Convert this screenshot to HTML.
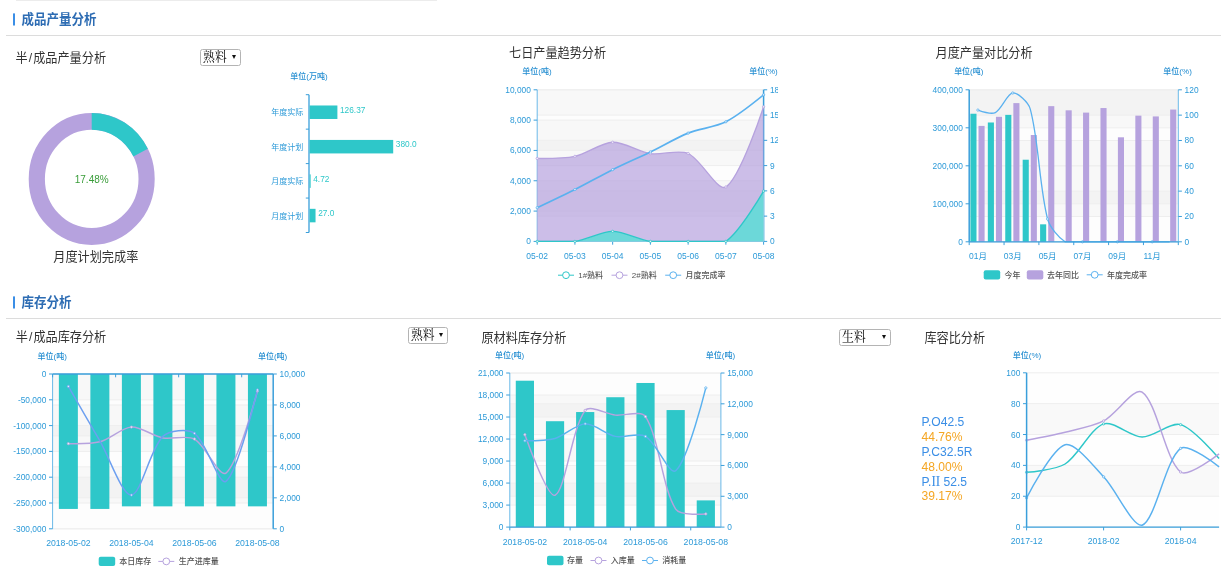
<!DOCTYPE html>
<html lang="zh-CN"><head><meta charset="utf-8"><title>成品产量分析</title>
<style>
html,body{margin:0;padding:0;background:#fff;}
body{width:1221px;height:576px;position:relative;overflow:hidden;font-family:"Liberation Sans","Noto Sans CJK SC",sans-serif;color:#333;}
.chart{position:absolute;display:block;overflow:hidden;}
.topline{position:absolute;left:16px;top:0;width:421px;height:1px;background:#ececec;}
.sec{position:absolute;left:6px;right:0;border-bottom:1.3px solid #dcdcdc;}
.sec h2{position:absolute;margin:0;left:7px;font-family:"Liberation Sans","Noto Sans CJK SC",sans-serif;font-weight:700;font-size:12.5px;line-height:16px;color:#2d6cb3;white-space:nowrap;transform:scaleY(1.1);transform-origin:0 50%;}
.sec h2 i{display:inline-block;width:2.2px;height:10.8px;background:#3a8ee6;margin-right:6.3px;vertical-align:-1px;}
.title{position:absolute;font-size:12.15px;line-height:16px;color:#333;white-space:nowrap;transform:scaleY(1.07);transform-origin:0 50%;}
.title s{text-decoration:none;padding:0 1.1px;}
.cap{position:absolute;font-size:12.15px;line-height:16px;color:#333;white-space:nowrap;text-align:center;transform:scaleY(1.07);}
.sel{position:absolute;box-sizing:border-box;border:1px solid #b4b4b4;border-radius:2.5px;background:#fff;font-family:"Liberation Serif","Noto Serif CJK SC",serif;font-size:11.8px;color:#000;white-space:nowrap;}
.sel span{position:absolute;left:1.8px;top:50%;line-height:14px;height:14px;margin-top:-7.6px;transform:scaleY(1.1);}
.sel b{position:absolute;right:4.2px;top:50%;margin-top:-2.3px;width:0;height:0;border-left:2.7px solid transparent;border-right:2.7px solid transparent;border-top:4px solid #111;}
.ratio{position:absolute;left:921.5px;top:414.7px;font-family:"Liberation Sans",sans-serif;font-size:12.1px;line-height:13.64px;white-space:nowrap;transform:scaleY(1.096);transform-origin:0 0;}
.ratio .n{color:#3a8ee6;display:block;}
.ratio .n em{font-style:normal;font-family:"Liberation Serif",serif;font-size:13.2px;line-height:1px;}
.ratio .v{color:#f5a623;display:block;}
</style></head><body>
<div class="topline"></div>
<div class="sec" style="top:0;height:34.7px"><h2 style="top:11.9px"><i></i>成品产量分析</h2></div>
<div class="title" style="left:15.5px;top:50.4px">半<s>/</s>成品产量分析</div>
<div class="sel" style="left:200.3px;top:48.6px;width:40.4px;height:17.2px"><span>熟料</span><b></b></div>
<div class="cap" style="left:45.3px;width:101px;top:249.2px">月度计划完成率</div>
<div class="title" style="left:509px;top:44.9px">七日产量趋势分析</div>
<div class="title" style="left:935.5px;top:45.2px">月度产量对比分析</div>
<svg class="chart " style="left:0px;top:66px" width="460" height="224" viewBox="0 66 460 224" font-family='"Liberation Sans","Noto Sans CJK SC",sans-serif'><g transform="translate(91.7 178.9) scale(1 1.048)"><circle cx="0" cy="0" r="54.9" fill="none" stroke="#b6a2de" stroke-width="16.200000000000003"/><path d="M0 -63 A63 63 0 0 1 56.1 -28.67 L41.67 -21.3 A46.8 46.8 0 0 0 0 -46.8 Z" fill="#2ec7c9"/></g><text x="91.7" y="182.8" font-size="10" fill="#3a9d3a" text-anchor="middle">17.48%</text><text x="309" y="78.9" font-size="8" fill="#1f8bd0" text-anchor="middle" font-weight="500">单位(万吨)</text><line x1="309" x2="309" y1="94.7" y2="232.5" stroke="#3a9fdb" stroke-width="1.3"/><line x1="305.8" x2="309" y1="94.7" y2="94.7" stroke="#3a9fdb" stroke-width="1"/><line x1="305.8" x2="309" y1="129.15" y2="129.15" stroke="#3a9fdb" stroke-width="1"/><line x1="305.8" x2="309" y1="163.6" y2="163.6" stroke="#3a9fdb" stroke-width="1"/><line x1="305.8" x2="309" y1="198.05" y2="198.05" stroke="#3a9fdb" stroke-width="1"/><line x1="305.8" x2="309" y1="232.5" y2="232.5" stroke="#3a9fdb" stroke-width="1"/><text x="303.2" y="115.23" font-size="8" fill="#2d9ad8" text-anchor="end">年度实际</text><rect x="309.6" y="105.48" width="27.8" height="13.5" fill="#2ec7c9"/><text x="340" y="112.73" font-size="8.3" fill="#2ec7c9" text-anchor="start">126.37</text><text x="303.2" y="149.68" font-size="8" fill="#2d9ad8" text-anchor="end">年度计划</text><rect x="309.6" y="139.93" width="83.6" height="13.5" fill="#2ec7c9"/><text x="395.8" y="147.18" font-size="8.3" fill="#2ec7c9" text-anchor="start">380.0</text><text x="303.2" y="184.12" font-size="8" fill="#2d9ad8" text-anchor="end">月度实际</text><rect x="309.6" y="174.38" width="1.04" height="13.5" fill="#2ec7c9"/><text x="313.24" y="181.62" font-size="8.3" fill="#2ec7c9" text-anchor="start">4.72</text><text x="303.2" y="218.58" font-size="8" fill="#2d9ad8" text-anchor="end">月度计划</text><rect x="309.6" y="208.83" width="5.94" height="13.5" fill="#2ec7c9"/><text x="318.14" y="216.08" font-size="8.3" fill="#2ec7c9" text-anchor="start">27.0</text></svg>
<svg class="chart " style="left:497px;top:62px" width="281" height="228" viewBox="497 62 281 228" font-family='"Liberation Sans","Noto Sans CJK SC",sans-serif'><rect x="537.2" y="211.08" width="226.4" height="30.32" fill="rgba(250,250,250,0.1)"/><rect x="537.2" y="180.76" width="226.4" height="30.32" fill="rgba(200,200,200,0.1)"/><rect x="537.2" y="150.44" width="226.4" height="30.32" fill="rgba(250,250,250,0.1)"/><rect x="537.2" y="120.12" width="226.4" height="30.32" fill="rgba(200,200,200,0.1)"/><rect x="537.2" y="89.8" width="226.4" height="30.32" fill="rgba(250,250,250,0.1)"/><rect x="537.2" y="216.13" width="226.4" height="25.27" fill="rgba(250,250,250,0.1)"/><rect x="537.2" y="190.87" width="226.4" height="25.27" fill="rgba(200,200,200,0.1)"/><rect x="537.2" y="165.6" width="226.4" height="25.27" fill="rgba(250,250,250,0.1)"/><rect x="537.2" y="140.33" width="226.4" height="25.27" fill="rgba(200,200,200,0.1)"/><rect x="537.2" y="115.07" width="226.4" height="25.27" fill="rgba(250,250,250,0.1)"/><rect x="537.2" y="89.8" width="226.4" height="25.27" fill="rgba(200,200,200,0.1)"/><line x1="537.2" x2="763.6" y1="89.8" y2="89.8" stroke="#eee" stroke-width="1"/><line x1="537.2" x2="763.6" y1="120.12" y2="120.12" stroke="#eee" stroke-width="1"/><line x1="537.2" x2="763.6" y1="150.44" y2="150.44" stroke="#eee" stroke-width="1"/><line x1="537.2" x2="763.6" y1="180.76" y2="180.76" stroke="#eee" stroke-width="1"/><line x1="537.2" x2="763.6" y1="211.08" y2="211.08" stroke="#eee" stroke-width="1"/><line x1="537.2" x2="763.6" y1="241.4" y2="241.4" stroke="#eee" stroke-width="1"/><line x1="537.2" x2="763.6" y1="89.8" y2="89.8" stroke="#eee" stroke-width="1"/><line x1="537.2" x2="763.6" y1="115.07" y2="115.07" stroke="#eee" stroke-width="1"/><line x1="537.2" x2="763.6" y1="140.33" y2="140.33" stroke="#eee" stroke-width="1"/><line x1="537.2" x2="763.6" y1="165.6" y2="165.6" stroke="#eee" stroke-width="1"/><line x1="537.2" x2="763.6" y1="190.87" y2="190.87" stroke="#eee" stroke-width="1"/><line x1="537.2" x2="763.6" y1="216.13" y2="216.13" stroke="#eee" stroke-width="1"/><line x1="537.2" x2="763.6" y1="241.4" y2="241.4" stroke="#eee" stroke-width="1"/><line x1="537.2" x2="763.6" y1="241.4" y2="241.4" stroke="#3a9fdb" stroke-width="1.3"/><line x1="537.2" x2="537.2" y1="89.8" y2="241.4" stroke="#6ab9e8" stroke-width="1.0"/><line x1="533.6" x2="537.2" y1="89.8" y2="89.8" stroke="#3a9fdb" stroke-width="1"/><text x="530.9" y="92.82" font-size="8.4" fill="#2d9ad8" text-anchor="end">10,000</text><line x1="533.6" x2="537.2" y1="120.12" y2="120.12" stroke="#3a9fdb" stroke-width="1"/><text x="530.9" y="123.14" font-size="8.4" fill="#2d9ad8" text-anchor="end">8,000</text><line x1="533.6" x2="537.2" y1="150.44" y2="150.44" stroke="#3a9fdb" stroke-width="1"/><text x="530.9" y="153.46" font-size="8.4" fill="#2d9ad8" text-anchor="end">6,000</text><line x1="533.6" x2="537.2" y1="180.76" y2="180.76" stroke="#3a9fdb" stroke-width="1"/><text x="530.9" y="183.78" font-size="8.4" fill="#2d9ad8" text-anchor="end">4,000</text><line x1="533.6" x2="537.2" y1="211.08" y2="211.08" stroke="#3a9fdb" stroke-width="1"/><text x="530.9" y="214.1" font-size="8.4" fill="#2d9ad8" text-anchor="end">2,000</text><line x1="533.6" x2="537.2" y1="241.4" y2="241.4" stroke="#3a9fdb" stroke-width="1"/><text x="530.9" y="244.42" font-size="8.4" fill="#2d9ad8" text-anchor="end">0</text><line x1="763.6" x2="763.6" y1="89.8" y2="241.4" stroke="#3a9fdb" stroke-width="1.5"/><line x1="763.6" x2="767.2" y1="89.8" y2="89.8" stroke="#3a9fdb" stroke-width="1"/><text x="769.9" y="92.82" font-size="8.4" fill="#2d9ad8" text-anchor="start">18</text><line x1="763.6" x2="767.2" y1="115.07" y2="115.07" stroke="#3a9fdb" stroke-width="1"/><text x="769.9" y="118.09" font-size="8.4" fill="#2d9ad8" text-anchor="start">15</text><line x1="763.6" x2="767.2" y1="140.33" y2="140.33" stroke="#3a9fdb" stroke-width="1"/><text x="769.9" y="143.36" font-size="8.4" fill="#2d9ad8" text-anchor="start">12</text><line x1="763.6" x2="767.2" y1="165.6" y2="165.6" stroke="#3a9fdb" stroke-width="1"/><text x="769.9" y="168.62" font-size="8.4" fill="#2d9ad8" text-anchor="start">9</text><line x1="763.6" x2="767.2" y1="190.87" y2="190.87" stroke="#3a9fdb" stroke-width="1"/><text x="769.9" y="193.89" font-size="8.4" fill="#2d9ad8" text-anchor="start">6</text><line x1="763.6" x2="767.2" y1="216.13" y2="216.13" stroke="#3a9fdb" stroke-width="1"/><text x="769.9" y="219.16" font-size="8.4" fill="#2d9ad8" text-anchor="start">3</text><line x1="763.6" x2="767.2" y1="241.4" y2="241.4" stroke="#3a9fdb" stroke-width="1"/><text x="769.9" y="244.42" font-size="8.4" fill="#2d9ad8" text-anchor="start">0</text><line x1="537.2" x2="537.2" y1="241.4" y2="244.7" stroke="#3a9fdb" stroke-width="1"/><text x="537.2" y="258.8" font-size="8.5" fill="#2d9ad8" text-anchor="middle">05-02</text><line x1="574.93" x2="574.93" y1="241.4" y2="244.7" stroke="#3a9fdb" stroke-width="1"/><text x="574.93" y="258.8" font-size="8.5" fill="#2d9ad8" text-anchor="middle">05-03</text><line x1="612.67" x2="612.67" y1="241.4" y2="244.7" stroke="#3a9fdb" stroke-width="1"/><text x="612.67" y="258.8" font-size="8.5" fill="#2d9ad8" text-anchor="middle">05-04</text><line x1="650.4" x2="650.4" y1="241.4" y2="244.7" stroke="#3a9fdb" stroke-width="1"/><text x="650.4" y="258.8" font-size="8.5" fill="#2d9ad8" text-anchor="middle">05-05</text><line x1="688.13" x2="688.13" y1="241.4" y2="244.7" stroke="#3a9fdb" stroke-width="1"/><text x="688.13" y="258.8" font-size="8.5" fill="#2d9ad8" text-anchor="middle">05-06</text><line x1="725.87" x2="725.87" y1="241.4" y2="244.7" stroke="#3a9fdb" stroke-width="1"/><text x="725.87" y="258.8" font-size="8.5" fill="#2d9ad8" text-anchor="middle">05-07</text><line x1="763.6" x2="763.6" y1="241.4" y2="244.7" stroke="#3a9fdb" stroke-width="1"/><text x="763.6" y="258.8" font-size="8.5" fill="#2d9ad8" text-anchor="middle">05-08</text><path d="M537.2 158.47 C537.2 158.47 563.97 158.71 574.93 156.35 C586.61 153.84 601.22 142.67 612.67 142.25 C623.86 141.85 638.83 151.9 650.4 153.62 C661.47 155.27 678.45 149.19 688.13 153.47 C701.09 159.2 717.65 192.06 725.87 186.98 C740.29 178.05 763.6 106.78 763.6 106.78 L763.6 241.4 L537.2 241.4 Z" fill="#b6a2de" fill-opacity="0.7"/><path d="M537.2 158.47 C537.2 158.47 563.97 158.71 574.93 156.35 C586.61 153.84 601.22 142.67 612.67 142.25 C623.86 141.85 638.83 151.9 650.4 153.62 C661.47 155.27 678.45 149.19 688.13 153.47 C701.09 159.2 717.65 192.06 725.87 186.98 C740.29 178.05 763.6 106.78 763.6 106.78" fill="none" stroke="#b6a2de" stroke-width="1.3"/><path d="M537.2 241.4 C537.2 241.4 563.81 241.4 574.93 241.4 C586.45 239.87 601.35 231.39 612.67 231.39 C623.99 231.39 638.89 239.87 650.4 241.4 C661.53 241.4 676.81 241.4 688.13 241.4 C699.45 241.4 717.38 241.4 725.87 241.4 C740.02 231.96 763.6 191.07 763.6 191.07 L763.6 241.4 L537.2 241.4 Z" fill="#fff"/><path d="M537.2 241.4 C537.2 241.4 563.81 241.4 574.93 241.4 C586.45 239.87 601.35 231.39 612.67 231.39 C623.99 231.39 638.89 239.87 650.4 241.4 C661.53 241.4 676.81 241.4 688.13 241.4 C699.45 241.4 717.38 241.4 725.87 241.4 C740.02 231.96 763.6 191.07 763.6 191.07 L763.6 241.4 L537.2 241.4 Z" fill="#2ec7c9" fill-opacity="0.7"/><path d="M537.2 241.4 C537.2 241.4 563.81 241.4 574.93 241.4 C586.45 239.87 601.35 231.39 612.67 231.39 C623.99 231.39 638.89 239.87 650.4 241.4 C661.53 241.4 676.81 241.4 688.13 241.4 C699.45 241.4 717.38 241.4 725.87 241.4 C740.02 231.96 763.6 191.07 763.6 191.07" fill="none" stroke="#2ec7c9" stroke-width="1.4"/><path d="M537.2 207.71 C537.2 207.71 563.71 195.18 574.93 189.52 C586.35 183.76 601.22 175.34 612.67 169.64 C623.86 164.07 639.15 157.41 650.4 151.96 C661.79 146.44 676.42 137.77 688.13 133.09 C699.06 128.72 715.47 127.07 725.87 121.8 C738.11 115.6 763.6 94.85 763.6 94.85" fill="none" stroke="#5ab1ef" stroke-width="1.7"/><circle cx="537.2" cy="158.47" r="1.15" fill="#fff" fill-opacity="0.85" stroke="#b6a2de" stroke-width="0.8"/><circle cx="574.93" cy="156.35" r="1.15" fill="#fff" fill-opacity="0.85" stroke="#b6a2de" stroke-width="0.8"/><circle cx="612.67" cy="142.25" r="1.15" fill="#fff" fill-opacity="0.85" stroke="#b6a2de" stroke-width="0.8"/><circle cx="650.4" cy="153.62" r="1.15" fill="#fff" fill-opacity="0.85" stroke="#b6a2de" stroke-width="0.8"/><circle cx="688.13" cy="153.47" r="1.15" fill="#fff" fill-opacity="0.85" stroke="#b6a2de" stroke-width="0.8"/><circle cx="725.87" cy="186.98" r="1.15" fill="#fff" fill-opacity="0.85" stroke="#b6a2de" stroke-width="0.8"/><circle cx="763.6" cy="106.78" r="1.15" fill="#fff" fill-opacity="0.85" stroke="#b6a2de" stroke-width="0.8"/><circle cx="537.2" cy="241.4" r="1.15" fill="#fff" fill-opacity="0.85" stroke="#2ec7c9" stroke-width="0.8"/><circle cx="574.93" cy="241.4" r="1.15" fill="#fff" fill-opacity="0.85" stroke="#2ec7c9" stroke-width="0.8"/><circle cx="612.67" cy="231.39" r="1.15" fill="#fff" fill-opacity="0.85" stroke="#2ec7c9" stroke-width="0.8"/><circle cx="650.4" cy="241.4" r="1.15" fill="#fff" fill-opacity="0.85" stroke="#2ec7c9" stroke-width="0.8"/><circle cx="688.13" cy="241.4" r="1.15" fill="#fff" fill-opacity="0.85" stroke="#2ec7c9" stroke-width="0.8"/><circle cx="725.87" cy="241.4" r="1.15" fill="#fff" fill-opacity="0.85" stroke="#2ec7c9" stroke-width="0.8"/><circle cx="763.6" cy="191.07" r="1.15" fill="#fff" fill-opacity="0.85" stroke="#2ec7c9" stroke-width="0.8"/><circle cx="537.2" cy="207.71" r="1.15" fill="#fff" fill-opacity="0.85" stroke="#5ab1ef" stroke-width="0.8"/><circle cx="574.93" cy="189.52" r="1.15" fill="#fff" fill-opacity="0.85" stroke="#5ab1ef" stroke-width="0.8"/><circle cx="612.67" cy="169.64" r="1.15" fill="#fff" fill-opacity="0.85" stroke="#5ab1ef" stroke-width="0.8"/><circle cx="650.4" cy="151.96" r="1.15" fill="#fff" fill-opacity="0.85" stroke="#5ab1ef" stroke-width="0.8"/><circle cx="688.13" cy="133.09" r="1.15" fill="#fff" fill-opacity="0.85" stroke="#5ab1ef" stroke-width="0.8"/><circle cx="725.87" cy="121.8" r="1.15" fill="#fff" fill-opacity="0.85" stroke="#5ab1ef" stroke-width="0.8"/><circle cx="763.6" cy="94.85" r="1.15" fill="#fff" fill-opacity="0.85" stroke="#5ab1ef" stroke-width="0.8"/><text x="536.9" y="74.4" font-size="8" fill="#1f8bd0" text-anchor="middle" font-weight="500">单位(吨)</text><text x="763.5" y="74.4" font-size="8" fill="#1f8bd0" text-anchor="middle" font-weight="500">单位(%)</text><line x1="558" x2="574" y1="275.2" y2="275.2" stroke="#2ec7c9" stroke-width="1"/><circle cx="566" cy="275.2" r="3.4" fill="#fff" stroke="#2ec7c9" stroke-width="1"/><text x="578.2" y="278.1" font-size="8" fill="#555" text-anchor="start" font-weight="500">1#熟料</text><line x1="611.5" x2="627.5" y1="275.2" y2="275.2" stroke="#b6a2de" stroke-width="1"/><circle cx="619.5" cy="275.2" r="3.4" fill="#fff" stroke="#b6a2de" stroke-width="1"/><text x="631.8" y="278.1" font-size="8" fill="#555" text-anchor="start" font-weight="500">2#熟料</text><line x1="665.2" x2="681.2" y1="275.2" y2="275.2" stroke="#5ab1ef" stroke-width="1"/><circle cx="673.2" cy="275.2" r="3.4" fill="#fff" stroke="#5ab1ef" stroke-width="1"/><text x="685.4" y="278.1" font-size="8" fill="#555" text-anchor="start" font-weight="500">月度完成率</text></svg>
<svg class="chart " style="left:925px;top:62px" width="296" height="228" viewBox="925 62 296 228" font-family='"Liberation Sans","Noto Sans CJK SC",sans-serif'><rect x="969.2" y="203.8" width="209.1" height="38" fill="rgba(250,250,250,0.1)"/><rect x="969.2" y="165.8" width="209.1" height="38" fill="rgba(200,200,200,0.1)"/><rect x="969.2" y="127.8" width="209.1" height="38" fill="rgba(250,250,250,0.1)"/><rect x="969.2" y="89.8" width="209.1" height="38" fill="rgba(200,200,200,0.1)"/><rect x="969.2" y="216.47" width="209.1" height="25.33" fill="rgba(250,250,250,0.1)"/><rect x="969.2" y="191.13" width="209.1" height="25.33" fill="rgba(200,200,200,0.1)"/><rect x="969.2" y="165.8" width="209.1" height="25.33" fill="rgba(250,250,250,0.1)"/><rect x="969.2" y="140.47" width="209.1" height="25.33" fill="rgba(200,200,200,0.1)"/><rect x="969.2" y="115.13" width="209.1" height="25.33" fill="rgba(250,250,250,0.1)"/><rect x="969.2" y="89.8" width="209.1" height="25.33" fill="rgba(200,200,200,0.1)"/><line x1="969.2" x2="1178.3" y1="89.8" y2="89.8" stroke="#eee" stroke-width="1"/><line x1="969.2" x2="1178.3" y1="127.8" y2="127.8" stroke="#eee" stroke-width="1"/><line x1="969.2" x2="1178.3" y1="165.8" y2="165.8" stroke="#eee" stroke-width="1"/><line x1="969.2" x2="1178.3" y1="203.8" y2="203.8" stroke="#eee" stroke-width="1"/><line x1="969.2" x2="1178.3" y1="241.8" y2="241.8" stroke="#eee" stroke-width="1"/><line x1="969.2" x2="1178.3" y1="89.8" y2="89.8" stroke="#eee" stroke-width="1"/><line x1="969.2" x2="1178.3" y1="115.13" y2="115.13" stroke="#eee" stroke-width="1"/><line x1="969.2" x2="1178.3" y1="140.47" y2="140.47" stroke="#eee" stroke-width="1"/><line x1="969.2" x2="1178.3" y1="165.8" y2="165.8" stroke="#eee" stroke-width="1"/><line x1="969.2" x2="1178.3" y1="191.13" y2="191.13" stroke="#eee" stroke-width="1"/><line x1="969.2" x2="1178.3" y1="216.47" y2="216.47" stroke="#eee" stroke-width="1"/><line x1="969.2" x2="1178.3" y1="241.8" y2="241.8" stroke="#eee" stroke-width="1"/><rect x="970.4" y="113.74" width="6.1" height="128.06" fill="#2ec7c9"/><rect x="987.83" y="122.48" width="6.1" height="119.32" fill="#2ec7c9"/><rect x="1005.25" y="114.88" width="6.1" height="126.92" fill="#2ec7c9"/><rect x="1022.68" y="159.72" width="6.1" height="82.08" fill="#2ec7c9"/><rect x="1040.1" y="224.32" width="6.1" height="17.48" fill="#2ec7c9"/><rect x="978.5" y="125.9" width="6.1" height="115.9" fill="#b6a2de"/><rect x="995.93" y="116.78" width="6.1" height="125.02" fill="#b6a2de"/><rect x="1013.35" y="103.1" width="6.1" height="138.7" fill="#b6a2de"/><rect x="1030.78" y="135.02" width="6.1" height="106.78" fill="#b6a2de"/><rect x="1048.2" y="106.14" width="6.1" height="135.66" fill="#b6a2de"/><rect x="1065.62" y="110.32" width="6.1" height="131.48" fill="#b6a2de"/><rect x="1083.05" y="112.6" width="6.1" height="129.2" fill="#b6a2de"/><rect x="1100.47" y="108.04" width="6.1" height="133.76" fill="#b6a2de"/><rect x="1117.9" y="137.3" width="6.1" height="104.5" fill="#b6a2de"/><rect x="1135.33" y="115.64" width="6.1" height="126.16" fill="#b6a2de"/><rect x="1152.75" y="116.4" width="6.1" height="125.4" fill="#b6a2de"/><rect x="1170.17" y="109.56" width="6.1" height="132.24" fill="#b6a2de"/><path d="M977.91 110.07 C977.91 110.07 991.14 114.66 995.34 112.6 C1001.6 109.53 1007.25 93.57 1012.76 92.97 C1017.71 92.43 1028.37 102.21 1030.19 108.8 C1038.82 140.02 1039.3 187.26 1047.61 219 C1049.75 227.16 1058.53 237.54 1065.04 241.8 C1068.99 241.8 1077.24 241.8 1082.46 241.8 C1087.69 241.8 1094.66 241.8 1099.89 241.8 C1105.12 241.8 1112.09 241.8 1117.31 241.8 C1122.54 241.8 1129.51 241.8 1134.74 241.8 C1139.96 241.8 1146.93 241.8 1152.16 241.8 C1157.39 241.8 1169.59 241.8 1169.59 241.8" fill="none" stroke="#5ab1ef" stroke-width="1.3"/><circle cx="977.91" cy="110.07" r="1.15" fill="#fff" fill-opacity="0.85" stroke="#5ab1ef" stroke-width="0.8"/><circle cx="1012.76" cy="92.97" r="1.15" fill="#fff" fill-opacity="0.85" stroke="#5ab1ef" stroke-width="0.8"/><circle cx="1047.61" cy="219" r="1.15" fill="#fff" fill-opacity="0.85" stroke="#5ab1ef" stroke-width="0.8"/><circle cx="1082.46" cy="241.8" r="1.15" fill="#fff" fill-opacity="0.85" stroke="#5ab1ef" stroke-width="0.8"/><circle cx="1117.31" cy="241.8" r="1.15" fill="#fff" fill-opacity="0.85" stroke="#5ab1ef" stroke-width="0.8"/><circle cx="1152.16" cy="241.8" r="1.15" fill="#fff" fill-opacity="0.85" stroke="#5ab1ef" stroke-width="0.8"/><line x1="969.2" x2="1178.3" y1="241.8" y2="241.8" stroke="#3a9fdb" stroke-width="1.3"/><line x1="969.2" x2="969.2" y1="89.8" y2="241.8" stroke="#3a9fdb" stroke-width="1.5"/><line x1="965.6" x2="969.2" y1="89.8" y2="89.8" stroke="#3a9fdb" stroke-width="1"/><text x="962.9" y="92.82" font-size="8.4" fill="#2d9ad8" text-anchor="end">400,000</text><line x1="965.6" x2="969.2" y1="127.8" y2="127.8" stroke="#3a9fdb" stroke-width="1"/><text x="962.9" y="130.82" font-size="8.4" fill="#2d9ad8" text-anchor="end">300,000</text><line x1="965.6" x2="969.2" y1="165.8" y2="165.8" stroke="#3a9fdb" stroke-width="1"/><text x="962.9" y="168.82" font-size="8.4" fill="#2d9ad8" text-anchor="end">200,000</text><line x1="965.6" x2="969.2" y1="203.8" y2="203.8" stroke="#3a9fdb" stroke-width="1"/><text x="962.9" y="206.82" font-size="8.4" fill="#2d9ad8" text-anchor="end">100,000</text><line x1="965.6" x2="969.2" y1="241.8" y2="241.8" stroke="#3a9fdb" stroke-width="1"/><text x="962.9" y="244.82" font-size="8.4" fill="#2d9ad8" text-anchor="end">0</text><line x1="1178.3" x2="1178.3" y1="89.8" y2="241.8" stroke="#6ab9e8" stroke-width="1.0"/><line x1="1178.3" x2="1181.9" y1="89.8" y2="89.8" stroke="#3a9fdb" stroke-width="1"/><text x="1184.6" y="92.82" font-size="8.4" fill="#2d9ad8" text-anchor="start">120</text><line x1="1178.3" x2="1181.9" y1="115.13" y2="115.13" stroke="#3a9fdb" stroke-width="1"/><text x="1184.6" y="118.16" font-size="8.4" fill="#2d9ad8" text-anchor="start">100</text><line x1="1178.3" x2="1181.9" y1="140.47" y2="140.47" stroke="#3a9fdb" stroke-width="1"/><text x="1184.6" y="143.49" font-size="8.4" fill="#2d9ad8" text-anchor="start">80</text><line x1="1178.3" x2="1181.9" y1="165.8" y2="165.8" stroke="#3a9fdb" stroke-width="1"/><text x="1184.6" y="168.82" font-size="8.4" fill="#2d9ad8" text-anchor="start">60</text><line x1="1178.3" x2="1181.9" y1="191.13" y2="191.13" stroke="#3a9fdb" stroke-width="1"/><text x="1184.6" y="194.16" font-size="8.4" fill="#2d9ad8" text-anchor="start">40</text><line x1="1178.3" x2="1181.9" y1="216.47" y2="216.47" stroke="#3a9fdb" stroke-width="1"/><text x="1184.6" y="219.49" font-size="8.4" fill="#2d9ad8" text-anchor="start">20</text><line x1="1178.3" x2="1181.9" y1="241.8" y2="241.8" stroke="#3a9fdb" stroke-width="1"/><text x="1184.6" y="244.82" font-size="8.4" fill="#2d9ad8" text-anchor="start">0</text><line x1="969.2" x2="969.2" y1="241.8" y2="245.1" stroke="#3a9fdb" stroke-width="1"/><line x1="1004.05" x2="1004.05" y1="241.8" y2="245.1" stroke="#3a9fdb" stroke-width="1"/><line x1="1038.9" x2="1038.9" y1="241.8" y2="245.1" stroke="#3a9fdb" stroke-width="1"/><line x1="1073.75" x2="1073.75" y1="241.8" y2="245.1" stroke="#3a9fdb" stroke-width="1"/><line x1="1108.6" x2="1108.6" y1="241.8" y2="245.1" stroke="#3a9fdb" stroke-width="1"/><line x1="1143.45" x2="1143.45" y1="241.8" y2="245.1" stroke="#3a9fdb" stroke-width="1"/><line x1="1178.3" x2="1178.3" y1="241.8" y2="245.1" stroke="#3a9fdb" stroke-width="1"/><text x="977.91" y="259.3" font-size="8.5" fill="#2d9ad8" text-anchor="middle">01月</text><text x="1012.76" y="259.3" font-size="8.5" fill="#2d9ad8" text-anchor="middle">03月</text><text x="1047.61" y="259.3" font-size="8.5" fill="#2d9ad8" text-anchor="middle">05月</text><text x="1082.46" y="259.3" font-size="8.5" fill="#2d9ad8" text-anchor="middle">07月</text><text x="1117.31" y="259.3" font-size="8.5" fill="#2d9ad8" text-anchor="middle">09月</text><text x="1152.16" y="259.3" font-size="8.5" fill="#2d9ad8" text-anchor="middle">11月</text><text x="968.8" y="74.3" font-size="8" fill="#1f8bd0" text-anchor="middle" font-weight="500">单位(吨)</text><text x="1177.6" y="74.3" font-size="8" fill="#1f8bd0" text-anchor="middle" font-weight="500">单位(%)</text><rect x="983.7" y="270.15" width="16.5" height="9.3" rx="2" fill="#2ec7c9"/><text x="1004.4" y="277.7" font-size="8" fill="#555" text-anchor="start" font-weight="500">今年</text><rect x="1026.8" y="270.15" width="16.5" height="9.3" rx="2" fill="#b6a2de"/><text x="1047" y="277.7" font-size="8" fill="#555" text-anchor="start" font-weight="500">去年同比</text><line x1="1086.7" x2="1102.7" y1="274.8" y2="274.8" stroke="#5ab1ef" stroke-width="1"/><circle cx="1094.7" cy="274.8" r="3.4" fill="#fff" stroke="#5ab1ef" stroke-width="1"/><text x="1106.9" y="277.7" font-size="8" fill="#555" text-anchor="start" font-weight="500">年度完成率</text></svg>
<div class="sec" style="top:284px;height:34.2px"><h2 style="top:10.9px"><i></i>库存分析</h2></div>
<div class="title" style="left:15.7px;top:328.6px">半<s>/</s>成品库存分析</div>
<div class="sel" style="left:408.1px;top:327.2px;width:39.8px;height:16.5px"><span>熟料</span><b></b></div>
<div class="title" style="left:481.4px;top:330.1px">原材料库存分析</div>
<div class="sel" style="left:839.3px;top:329.4px;width:51.5px;height:16.2px"><span>生料</span><b></b></div>
<div class="title" style="left:924.4px;top:330.2px">库容比分析</div>
<div class="ratio"><span class="n">P.O42.5</span><span class="v">44.76%</span><span class="n">P.C32.5R</span><span class="v">48.00%</span><span class="n">P.<em>II</em> 52.5</span><span class="v">39.17%</span></div>
<svg class="chart " style="left:0px;top:348px" width="400" height="228" viewBox="0 348 400 228" font-family='"Liberation Sans","Noto Sans CJK SC",sans-serif'><rect x="52.6" y="503" width="220.6" height="25.8" fill="rgba(250,250,250,0.1)"/><rect x="52.6" y="477.2" width="220.6" height="25.8" fill="rgba(200,200,200,0.1)"/><rect x="52.6" y="451.4" width="220.6" height="25.8" fill="rgba(250,250,250,0.1)"/><rect x="52.6" y="425.6" width="220.6" height="25.8" fill="rgba(200,200,200,0.1)"/><rect x="52.6" y="399.8" width="220.6" height="25.8" fill="rgba(250,250,250,0.1)"/><rect x="52.6" y="374" width="220.6" height="25.8" fill="rgba(200,200,200,0.1)"/><rect x="52.6" y="497.84" width="220.6" height="30.96" fill="rgba(250,250,250,0.1)"/><rect x="52.6" y="466.88" width="220.6" height="30.96" fill="rgba(200,200,200,0.1)"/><rect x="52.6" y="435.92" width="220.6" height="30.96" fill="rgba(250,250,250,0.1)"/><rect x="52.6" y="404.96" width="220.6" height="30.96" fill="rgba(200,200,200,0.1)"/><rect x="52.6" y="374" width="220.6" height="30.96" fill="rgba(250,250,250,0.1)"/><line x1="52.6" x2="273.2" y1="374" y2="374" stroke="#eee" stroke-width="1"/><line x1="52.6" x2="273.2" y1="399.8" y2="399.8" stroke="#eee" stroke-width="1"/><line x1="52.6" x2="273.2" y1="425.6" y2="425.6" stroke="#eee" stroke-width="1"/><line x1="52.6" x2="273.2" y1="451.4" y2="451.4" stroke="#eee" stroke-width="1"/><line x1="52.6" x2="273.2" y1="477.2" y2="477.2" stroke="#eee" stroke-width="1"/><line x1="52.6" x2="273.2" y1="503" y2="503" stroke="#eee" stroke-width="1"/><line x1="52.6" x2="273.2" y1="528.8" y2="528.8" stroke="#eee" stroke-width="1"/><line x1="52.6" x2="273.2" y1="374" y2="374" stroke="#eee" stroke-width="1"/><line x1="52.6" x2="273.2" y1="404.96" y2="404.96" stroke="#eee" stroke-width="1"/><line x1="52.6" x2="273.2" y1="435.92" y2="435.92" stroke="#eee" stroke-width="1"/><line x1="52.6" x2="273.2" y1="466.88" y2="466.88" stroke="#eee" stroke-width="1"/><line x1="52.6" x2="273.2" y1="497.84" y2="497.84" stroke="#eee" stroke-width="1"/><line x1="52.6" x2="273.2" y1="528.8" y2="528.8" stroke="#eee" stroke-width="1"/><rect x="58.86" y="374" width="19.0" height="134.93" fill="#2ec7c9"/><rect x="90.37" y="374" width="19.0" height="134.93" fill="#2ec7c9"/><rect x="121.89" y="374" width="19.0" height="132.35" fill="#2ec7c9"/><rect x="153.4" y="374" width="19.0" height="132.35" fill="#2ec7c9"/><rect x="184.91" y="374" width="19.0" height="132.35" fill="#2ec7c9"/><rect x="216.43" y="374" width="19.0" height="132.35" fill="#2ec7c9"/><rect x="247.94" y="374" width="19.0" height="132.35" fill="#2ec7c9"/><path d="M68.36 443.66 C68.36 443.66 90.87 444.17 99.87 441.8 C109.78 439.2 121.73 427.69 131.39 427.1 C140.64 426.53 153.18 436.1 162.9 437.93 C172.09 439.67 186.76 434.75 194.41 439.02 C205.67 445.29 219.4 478.05 225.93 473.07 C238.3 463.65 257.44 391.03 257.44 391.03" fill="none" stroke="#b6a2de" stroke-width="1.45"/><path d="M68.36 386.38 C68.36 386.38 90.4 424.54 99.87 440.87 C109.31 457.14 122.22 495.71 131.39 495.05 C141.13 494.36 150.08 448.94 162.9 436.38 C168.99 430.41 187.69 428.5 194.41 433.29 C206.6 441.97 218.88 486.12 225.93 481.28 C237.79 473.12 257.44 389.94 257.44 389.94" fill="none" stroke="#6c9ff0" stroke-width="1.45"/><circle cx="68.36" cy="443.66" r="1.15" fill="#fff" fill-opacity="0.85" stroke="#b6a2de" stroke-width="0.8"/><circle cx="131.39" cy="427.1" r="1.15" fill="#fff" fill-opacity="0.85" stroke="#b6a2de" stroke-width="0.8"/><circle cx="194.41" cy="439.02" r="1.15" fill="#fff" fill-opacity="0.85" stroke="#b6a2de" stroke-width="0.8"/><circle cx="257.44" cy="391.03" r="1.15" fill="#fff" fill-opacity="0.85" stroke="#b6a2de" stroke-width="0.8"/><circle cx="68.36" cy="386.38" r="1.15" fill="#fff" fill-opacity="0.85" stroke="#6c9ff0" stroke-width="0.8"/><circle cx="131.39" cy="495.05" r="1.15" fill="#fff" fill-opacity="0.85" stroke="#6c9ff0" stroke-width="0.8"/><circle cx="194.41" cy="433.29" r="1.15" fill="#fff" fill-opacity="0.85" stroke="#6c9ff0" stroke-width="0.8"/><circle cx="257.44" cy="389.94" r="1.15" fill="#fff" fill-opacity="0.85" stroke="#6c9ff0" stroke-width="0.8"/><line x1="52.6" x2="273.2" y1="374" y2="374" stroke="#3a9fdb" stroke-width="1.3"/><line x1="52.6" x2="52.6" y1="374" y2="528.8" stroke="#6ab9e8" stroke-width="1.0"/><line x1="49" x2="52.6" y1="374" y2="374" stroke="#3a9fdb" stroke-width="1"/><text x="46.3" y="377.02" font-size="8.4" fill="#2d9ad8" text-anchor="end">0</text><line x1="49" x2="52.6" y1="399.8" y2="399.8" stroke="#3a9fdb" stroke-width="1"/><text x="46.3" y="402.82" font-size="8.4" fill="#2d9ad8" text-anchor="end">-50,000</text><line x1="49" x2="52.6" y1="425.6" y2="425.6" stroke="#3a9fdb" stroke-width="1"/><text x="46.3" y="428.62" font-size="8.4" fill="#2d9ad8" text-anchor="end">-100,000</text><line x1="49" x2="52.6" y1="451.4" y2="451.4" stroke="#3a9fdb" stroke-width="1"/><text x="46.3" y="454.42" font-size="8.4" fill="#2d9ad8" text-anchor="end">-150,000</text><line x1="49" x2="52.6" y1="477.2" y2="477.2" stroke="#3a9fdb" stroke-width="1"/><text x="46.3" y="480.22" font-size="8.4" fill="#2d9ad8" text-anchor="end">-200,000</text><line x1="49" x2="52.6" y1="503" y2="503" stroke="#3a9fdb" stroke-width="1"/><text x="46.3" y="506.02" font-size="8.4" fill="#2d9ad8" text-anchor="end">-250,000</text><line x1="49" x2="52.6" y1="528.8" y2="528.8" stroke="#3a9fdb" stroke-width="1"/><text x="46.3" y="531.82" font-size="8.4" fill="#2d9ad8" text-anchor="end">-300,000</text><line x1="273.2" x2="273.2" y1="374" y2="528.8" stroke="#3a9fdb" stroke-width="1.5"/><line x1="273.2" x2="276.8" y1="374" y2="374" stroke="#3a9fdb" stroke-width="1"/><text x="279.5" y="377.02" font-size="8.4" fill="#2d9ad8" text-anchor="start">10,000</text><line x1="273.2" x2="276.8" y1="404.96" y2="404.96" stroke="#3a9fdb" stroke-width="1"/><text x="279.5" y="407.98" font-size="8.4" fill="#2d9ad8" text-anchor="start">8,000</text><line x1="273.2" x2="276.8" y1="435.92" y2="435.92" stroke="#3a9fdb" stroke-width="1"/><text x="279.5" y="438.94" font-size="8.4" fill="#2d9ad8" text-anchor="start">6,000</text><line x1="273.2" x2="276.8" y1="466.88" y2="466.88" stroke="#3a9fdb" stroke-width="1"/><text x="279.5" y="469.9" font-size="8.4" fill="#2d9ad8" text-anchor="start">4,000</text><line x1="273.2" x2="276.8" y1="497.84" y2="497.84" stroke="#3a9fdb" stroke-width="1"/><text x="279.5" y="500.86" font-size="8.4" fill="#2d9ad8" text-anchor="start">2,000</text><line x1="273.2" x2="276.8" y1="528.8" y2="528.8" stroke="#3a9fdb" stroke-width="1"/><text x="279.5" y="531.82" font-size="8.4" fill="#2d9ad8" text-anchor="start">0</text><line x1="52.6" x2="52.6" y1="374" y2="377.3" stroke="#3a9fdb" stroke-width="1"/><text x="68.36" y="545.5" font-size="8.7" fill="#2d9ad8" text-anchor="middle">2018-05-02</text><line x1="115.63" x2="115.63" y1="374" y2="377.3" stroke="#3a9fdb" stroke-width="1"/><text x="131.39" y="545.5" font-size="8.7" fill="#2d9ad8" text-anchor="middle">2018-05-04</text><line x1="178.66" x2="178.66" y1="374" y2="377.3" stroke="#3a9fdb" stroke-width="1"/><text x="194.41" y="545.5" font-size="8.7" fill="#2d9ad8" text-anchor="middle">2018-05-06</text><line x1="241.69" x2="241.69" y1="374" y2="377.3" stroke="#3a9fdb" stroke-width="1"/><text x="257.44" y="545.5" font-size="8.7" fill="#2d9ad8" text-anchor="middle">2018-05-08</text><text x="52.2" y="359.3" font-size="8" fill="#1f8bd0" text-anchor="middle" font-weight="500">单位(吨)</text><text x="272.6" y="359.3" font-size="8" fill="#1f8bd0" text-anchor="middle" font-weight="500">单位(吨)</text><rect x="98.7" y="556.75" width="16.5" height="9.3" rx="2" fill="#2ec7c9"/><text x="119.2" y="564.3" font-size="8" fill="#555" text-anchor="start" font-weight="500">本日库存</text><line x1="158.3" x2="174.3" y1="561.4" y2="561.4" stroke="#b6a2de" stroke-width="1"/><circle cx="166.3" cy="561.4" r="3.4" fill="#fff" stroke="#b6a2de" stroke-width="1"/><text x="178.7" y="564.3" font-size="8" fill="#555" text-anchor="start" font-weight="500">生产进库量</text></svg>
<svg class="chart " style="left:470px;top:348px" width="290" height="228" viewBox="470 348 290 228" font-family='"Liberation Sans","Noto Sans CJK SC",sans-serif'><rect x="509.8" y="505.09" width="211.1" height="22.01" fill="rgba(250,250,250,0.1)"/><rect x="509.8" y="483.07" width="211.1" height="22.01" fill="rgba(200,200,200,0.1)"/><rect x="509.8" y="461.06" width="211.1" height="22.01" fill="rgba(250,250,250,0.1)"/><rect x="509.8" y="439.04" width="211.1" height="22.01" fill="rgba(200,200,200,0.1)"/><rect x="509.8" y="417.03" width="211.1" height="22.01" fill="rgba(250,250,250,0.1)"/><rect x="509.8" y="395.01" width="211.1" height="22.01" fill="rgba(200,200,200,0.1)"/><rect x="509.8" y="373" width="211.1" height="22.01" fill="rgba(250,250,250,0.1)"/><rect x="509.8" y="496.28" width="211.1" height="30.82" fill="rgba(250,250,250,0.1)"/><rect x="509.8" y="465.46" width="211.1" height="30.82" fill="rgba(200,200,200,0.1)"/><rect x="509.8" y="434.64" width="211.1" height="30.82" fill="rgba(250,250,250,0.1)"/><rect x="509.8" y="403.82" width="211.1" height="30.82" fill="rgba(200,200,200,0.1)"/><rect x="509.8" y="373" width="211.1" height="30.82" fill="rgba(250,250,250,0.1)"/><line x1="509.8" x2="720.9" y1="373" y2="373" stroke="#eee" stroke-width="1"/><line x1="509.8" x2="720.9" y1="395.01" y2="395.01" stroke="#eee" stroke-width="1"/><line x1="509.8" x2="720.9" y1="417.03" y2="417.03" stroke="#eee" stroke-width="1"/><line x1="509.8" x2="720.9" y1="439.04" y2="439.04" stroke="#eee" stroke-width="1"/><line x1="509.8" x2="720.9" y1="461.06" y2="461.06" stroke="#eee" stroke-width="1"/><line x1="509.8" x2="720.9" y1="483.07" y2="483.07" stroke="#eee" stroke-width="1"/><line x1="509.8" x2="720.9" y1="505.09" y2="505.09" stroke="#eee" stroke-width="1"/><line x1="509.8" x2="720.9" y1="527.1" y2="527.1" stroke="#eee" stroke-width="1"/><line x1="509.8" x2="720.9" y1="373" y2="373" stroke="#eee" stroke-width="1"/><line x1="509.8" x2="720.9" y1="403.82" y2="403.82" stroke="#eee" stroke-width="1"/><line x1="509.8" x2="720.9" y1="434.64" y2="434.64" stroke="#eee" stroke-width="1"/><line x1="509.8" x2="720.9" y1="465.46" y2="465.46" stroke="#eee" stroke-width="1"/><line x1="509.8" x2="720.9" y1="496.28" y2="496.28" stroke="#eee" stroke-width="1"/><line x1="509.8" x2="720.9" y1="527.1" y2="527.1" stroke="#eee" stroke-width="1"/><rect x="515.78" y="380.71" width="18.2" height="146.39" fill="#2ec7c9"/><rect x="545.94" y="421.21" width="18.2" height="105.89" fill="#2ec7c9"/><rect x="576.09" y="412.04" width="18.2" height="115.06" fill="#2ec7c9"/><rect x="606.25" y="397.22" width="18.2" height="129.88" fill="#2ec7c9"/><rect x="636.41" y="382.98" width="18.2" height="144.12" fill="#2ec7c9"/><rect x="666.56" y="410.06" width="18.2" height="117.04" fill="#2ec7c9"/><rect x="696.72" y="500.39" width="18.2" height="26.71" fill="#2ec7c9"/><path d="M524.88 434.74 C524.88 434.74 547.28 498.38 555.04 495.25 C565.37 491.08 571.68 428.35 585.19 410.39 C589.77 404.31 606.25 414.18 615.35 415.12 C624.35 416.06 641.22 409.98 645.51 416.66 C659.31 438.18 661.89 486.91 675.66 509.12 C679.99 516.1 705.82 513.95 705.82 513.95" fill="none" stroke="#b6a2de" stroke-width="1.45"/><path d="M524.88 440.8 C524.88 440.8 546.45 440.85 555.04 438.44 C564.54 435.77 576.03 424.17 585.19 423.85 C594.12 423.55 605.94 434.43 615.35 436.39 C624.04 438.19 638.32 432.29 645.51 436.39 C656.41 442.61 669.48 475.77 675.66 470.8 C687.58 461.22 705.82 387.9 705.82 387.9" fill="none" stroke="#5ab1ef" stroke-width="1.45"/><circle cx="524.88" cy="434.74" r="1.15" fill="#fff" fill-opacity="0.85" stroke="#b6a2de" stroke-width="0.8"/><circle cx="585.19" cy="410.39" r="1.15" fill="#fff" fill-opacity="0.85" stroke="#b6a2de" stroke-width="0.8"/><circle cx="645.51" cy="416.66" r="1.15" fill="#fff" fill-opacity="0.85" stroke="#b6a2de" stroke-width="0.8"/><circle cx="705.82" cy="513.95" r="1.15" fill="#fff" fill-opacity="0.85" stroke="#b6a2de" stroke-width="0.8"/><circle cx="524.88" cy="440.8" r="1.15" fill="#fff" fill-opacity="0.85" stroke="#5ab1ef" stroke-width="0.8"/><circle cx="585.19" cy="423.85" r="1.15" fill="#fff" fill-opacity="0.85" stroke="#5ab1ef" stroke-width="0.8"/><circle cx="645.51" cy="436.39" r="1.15" fill="#fff" fill-opacity="0.85" stroke="#5ab1ef" stroke-width="0.8"/><circle cx="705.82" cy="387.9" r="1.15" fill="#fff" fill-opacity="0.85" stroke="#5ab1ef" stroke-width="0.8"/><line x1="509.8" x2="720.9" y1="527.1" y2="527.1" stroke="#3a9fdb" stroke-width="1.3"/><line x1="509.8" x2="509.8" y1="373" y2="527.1" stroke="#6ab9e8" stroke-width="1.0"/><line x1="506.2" x2="509.8" y1="373" y2="373" stroke="#3a9fdb" stroke-width="1"/><text x="503.5" y="376.02" font-size="8.4" fill="#2d9ad8" text-anchor="end">21,000</text><line x1="506.2" x2="509.8" y1="395.01" y2="395.01" stroke="#3a9fdb" stroke-width="1"/><text x="503.5" y="398.04" font-size="8.4" fill="#2d9ad8" text-anchor="end">18,000</text><line x1="506.2" x2="509.8" y1="417.03" y2="417.03" stroke="#3a9fdb" stroke-width="1"/><text x="503.5" y="420.05" font-size="8.4" fill="#2d9ad8" text-anchor="end">15,000</text><line x1="506.2" x2="509.8" y1="439.04" y2="439.04" stroke="#3a9fdb" stroke-width="1"/><text x="503.5" y="442.07" font-size="8.4" fill="#2d9ad8" text-anchor="end">12,000</text><line x1="506.2" x2="509.8" y1="461.06" y2="461.06" stroke="#3a9fdb" stroke-width="1"/><text x="503.5" y="464.08" font-size="8.4" fill="#2d9ad8" text-anchor="end">9,000</text><line x1="506.2" x2="509.8" y1="483.07" y2="483.07" stroke="#3a9fdb" stroke-width="1"/><text x="503.5" y="486.1" font-size="8.4" fill="#2d9ad8" text-anchor="end">6,000</text><line x1="506.2" x2="509.8" y1="505.09" y2="505.09" stroke="#3a9fdb" stroke-width="1"/><text x="503.5" y="508.11" font-size="8.4" fill="#2d9ad8" text-anchor="end">3,000</text><line x1="506.2" x2="509.8" y1="527.1" y2="527.1" stroke="#3a9fdb" stroke-width="1"/><text x="503.5" y="530.12" font-size="8.4" fill="#2d9ad8" text-anchor="end">0</text><line x1="720.9" x2="720.9" y1="373" y2="527.1" stroke="#6ab9e8" stroke-width="1.0"/><line x1="720.9" x2="724.5" y1="373" y2="373" stroke="#3a9fdb" stroke-width="1"/><text x="727.2" y="376.02" font-size="8.4" fill="#2d9ad8" text-anchor="start">15,000</text><line x1="720.9" x2="724.5" y1="403.82" y2="403.82" stroke="#3a9fdb" stroke-width="1"/><text x="727.2" y="406.84" font-size="8.4" fill="#2d9ad8" text-anchor="start">12,000</text><line x1="720.9" x2="724.5" y1="434.64" y2="434.64" stroke="#3a9fdb" stroke-width="1"/><text x="727.2" y="437.66" font-size="8.4" fill="#2d9ad8" text-anchor="start">9,000</text><line x1="720.9" x2="724.5" y1="465.46" y2="465.46" stroke="#3a9fdb" stroke-width="1"/><text x="727.2" y="468.48" font-size="8.4" fill="#2d9ad8" text-anchor="start">6,000</text><line x1="720.9" x2="724.5" y1="496.28" y2="496.28" stroke="#3a9fdb" stroke-width="1"/><text x="727.2" y="499.3" font-size="8.4" fill="#2d9ad8" text-anchor="start">3,000</text><line x1="720.9" x2="724.5" y1="527.1" y2="527.1" stroke="#3a9fdb" stroke-width="1"/><text x="727.2" y="530.12" font-size="8.4" fill="#2d9ad8" text-anchor="start">0</text><line x1="509.8" x2="509.8" y1="527.1" y2="530.4" stroke="#3a9fdb" stroke-width="1"/><text x="524.88" y="544.7" font-size="8.7" fill="#2d9ad8" text-anchor="middle">2018-05-02</text><line x1="570.11" x2="570.11" y1="527.1" y2="530.4" stroke="#3a9fdb" stroke-width="1"/><text x="585.19" y="544.7" font-size="8.7" fill="#2d9ad8" text-anchor="middle">2018-05-04</text><line x1="630.43" x2="630.43" y1="527.1" y2="530.4" stroke="#3a9fdb" stroke-width="1"/><text x="645.51" y="544.7" font-size="8.7" fill="#2d9ad8" text-anchor="middle">2018-05-06</text><line x1="690.74" x2="690.74" y1="527.1" y2="530.4" stroke="#3a9fdb" stroke-width="1"/><text x="705.82" y="544.7" font-size="8.7" fill="#2d9ad8" text-anchor="middle">2018-05-08</text><text x="509.6" y="357.7" font-size="8" fill="#1f8bd0" text-anchor="middle" font-weight="500">单位(吨)</text><text x="720.5" y="357.7" font-size="8" fill="#1f8bd0" text-anchor="middle" font-weight="500">单位(吨)</text><rect x="547" y="555.85" width="16.5" height="9.3" rx="2" fill="#2ec7c9"/><text x="567.1" y="563.4" font-size="8" fill="#555" text-anchor="start" font-weight="500">存量</text><line x1="590.5" x2="606.5" y1="560.5" y2="560.5" stroke="#b6a2de" stroke-width="1"/><circle cx="598.5" cy="560.5" r="3.4" fill="#fff" stroke="#b6a2de" stroke-width="1"/><text x="610.7" y="563.4" font-size="8" fill="#555" text-anchor="start" font-weight="500">入库量</text><line x1="642" x2="658" y1="560.5" y2="560.5" stroke="#5ab1ef" stroke-width="1"/><circle cx="650" cy="560.5" r="3.4" fill="#fff" stroke="#5ab1ef" stroke-width="1"/><text x="662.3" y="563.4" font-size="8" fill="#555" text-anchor="start" font-weight="500">消耗量</text></svg>
<svg class="chart " style="left:995px;top:348px" width="226" height="228" viewBox="995 348 226 228" font-family='"Liberation Sans","Noto Sans CJK SC",sans-serif'><rect x="1026.6" y="496.24" width="192.5" height="30.86" fill="rgba(250,250,250,0.1)"/><rect x="1026.6" y="465.38" width="192.5" height="30.86" fill="rgba(200,200,200,0.1)"/><rect x="1026.6" y="434.52" width="192.5" height="30.86" fill="rgba(250,250,250,0.1)"/><rect x="1026.6" y="403.66" width="192.5" height="30.86" fill="rgba(200,200,200,0.1)"/><rect x="1026.6" y="372.8" width="192.5" height="30.86" fill="rgba(250,250,250,0.1)"/><line x1="1026.6" x2="1219.1" y1="372.8" y2="372.8" stroke="#eee" stroke-width="1"/><line x1="1026.6" x2="1219.1" y1="403.66" y2="403.66" stroke="#eee" stroke-width="1"/><line x1="1026.6" x2="1219.1" y1="434.52" y2="434.52" stroke="#eee" stroke-width="1"/><line x1="1026.6" x2="1219.1" y1="465.38" y2="465.38" stroke="#eee" stroke-width="1"/><line x1="1026.6" x2="1219.1" y1="496.24" y2="496.24" stroke="#eee" stroke-width="1"/><line x1="1026.6" x2="1219.1" y1="527.1" y2="527.1" stroke="#eee" stroke-width="1"/><path d="M1026.6 472.32 C1026.6 472.32 1055.52 470.02 1065.1 463.99 C1078.62 455.48 1090.26 428.55 1103.6 423.87 C1113.36 420.45 1130.52 436.87 1142.1 436.99 C1153.62 437.1 1170.42 421.79 1180.6 424.64 C1193.52 428.27 1219.1 458.59 1219.1 458.59" fill="none" stroke="#2ec7c9" stroke-width="1.45"/><circle cx="1026.6" cy="472.32" r="1.15" fill="#fff" fill-opacity="0.85" stroke="#2ec7c9" stroke-width="0.8"/><circle cx="1103.6" cy="423.87" r="1.15" fill="#fff" fill-opacity="0.85" stroke="#2ec7c9" stroke-width="0.8"/><circle cx="1180.6" cy="424.64" r="1.15" fill="#fff" fill-opacity="0.85" stroke="#2ec7c9" stroke-width="0.8"/><path d="M1026.6 440.23 C1026.6 440.23 1053.66 435.07 1065.1 432.21 C1076.76 429.28 1093.1 426.41 1103.6 420.94 C1116.2 414.38 1133.98 386.7 1142.1 392.09 C1157.08 402.02 1164.99 459.5 1180.6 472.01 C1188.09 478.02 1219.1 453.81 1219.1 453.81" fill="none" stroke="#b6a2de" stroke-width="1.45"/><circle cx="1026.6" cy="440.23" r="1.15" fill="#fff" fill-opacity="0.85" stroke="#b6a2de" stroke-width="0.8"/><circle cx="1103.6" cy="420.94" r="1.15" fill="#fff" fill-opacity="0.85" stroke="#b6a2de" stroke-width="0.8"/><circle cx="1180.6" cy="472.01" r="1.15" fill="#fff" fill-opacity="0.85" stroke="#b6a2de" stroke-width="0.8"/><path d="M1026.6 497.94 C1026.6 497.94 1052 448.3 1065.1 444.7 C1075.1 441.96 1093.26 465.99 1103.6 476.8 C1116.36 490.15 1132.43 527.1 1142.1 525.25 C1155.53 520.3 1165.17 460.09 1180.6 448.41 C1188.27 442.6 1219.1 466.92 1219.1 466.92" fill="none" stroke="#5ab1ef" stroke-width="1.45"/><circle cx="1026.6" cy="497.94" r="1.15" fill="#fff" fill-opacity="0.85" stroke="#5ab1ef" stroke-width="0.8"/><circle cx="1103.6" cy="476.8" r="1.15" fill="#fff" fill-opacity="0.85" stroke="#5ab1ef" stroke-width="0.8"/><circle cx="1180.6" cy="448.41" r="1.15" fill="#fff" fill-opacity="0.85" stroke="#5ab1ef" stroke-width="0.8"/><line x1="1026.6" x2="1219.1" y1="527.1" y2="527.1" stroke="#3a9fdb" stroke-width="1.3"/><line x1="1026.6" x2="1026.6" y1="372.8" y2="527.1" stroke="#3a9fdb" stroke-width="1.5"/><line x1="1023" x2="1026.6" y1="372.8" y2="372.8" stroke="#3a9fdb" stroke-width="1"/><text x="1020.3" y="375.82" font-size="8.4" fill="#2d9ad8" text-anchor="end">100</text><line x1="1023" x2="1026.6" y1="403.66" y2="403.66" stroke="#3a9fdb" stroke-width="1"/><text x="1020.3" y="406.68" font-size="8.4" fill="#2d9ad8" text-anchor="end">80</text><line x1="1023" x2="1026.6" y1="434.52" y2="434.52" stroke="#3a9fdb" stroke-width="1"/><text x="1020.3" y="437.54" font-size="8.4" fill="#2d9ad8" text-anchor="end">60</text><line x1="1023" x2="1026.6" y1="465.38" y2="465.38" stroke="#3a9fdb" stroke-width="1"/><text x="1020.3" y="468.4" font-size="8.4" fill="#2d9ad8" text-anchor="end">40</text><line x1="1023" x2="1026.6" y1="496.24" y2="496.24" stroke="#3a9fdb" stroke-width="1"/><text x="1020.3" y="499.26" font-size="8.4" fill="#2d9ad8" text-anchor="end">20</text><line x1="1023" x2="1026.6" y1="527.1" y2="527.1" stroke="#3a9fdb" stroke-width="1"/><text x="1020.3" y="530.12" font-size="8.4" fill="#2d9ad8" text-anchor="end">0</text><line x1="1026.6" x2="1026.6" y1="527.1" y2="530.4" stroke="#3a9fdb" stroke-width="1"/><text x="1026.6" y="544.4" font-size="8.7" fill="#2d9ad8" text-anchor="middle">2017-12</text><line x1="1103.6" x2="1103.6" y1="527.1" y2="530.4" stroke="#3a9fdb" stroke-width="1"/><text x="1103.6" y="544.4" font-size="8.7" fill="#2d9ad8" text-anchor="middle">2018-02</text><line x1="1180.6" x2="1180.6" y1="527.1" y2="530.4" stroke="#3a9fdb" stroke-width="1"/><text x="1180.6" y="544.4" font-size="8.7" fill="#2d9ad8" text-anchor="middle">2018-04</text><text x="1027" y="358.2" font-size="8" fill="#1f8bd0" text-anchor="middle" font-weight="500">单位(%)</text></svg>
</body></html>
